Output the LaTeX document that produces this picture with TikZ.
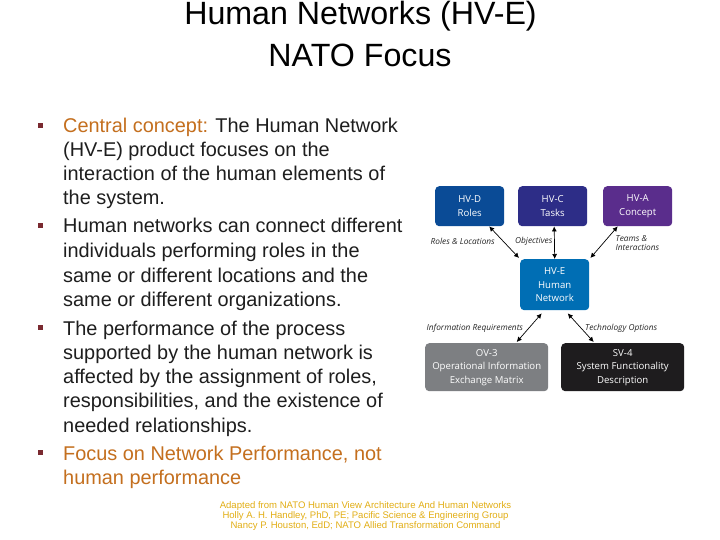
\documentclass[tikz,border=0pt]{standalone}
\usepackage{fontspec}
\setmainfont{Liberation Sans}
\newfontfamily\boxfont{Open Sans}
\usetikzlibrary{arrows.meta}
\definecolor{orangetxt}{HTML}{C46F1E}
\definecolor{bodytxt}{HTML}{1E1E1E}
\definecolor{foot}{HTML}{E2AE14}
\definecolor{bul}{HTML}{7A2A30}
\tikzset{
 x=1pt,y=-1pt,
 title/.style={font=\fontsize{32.2}{40}\selectfont,text=black,align=center,inner sep=0pt,anchor=center},
 bodytext/.style={anchor=base west,inner sep=0pt,text=bodytxt,font=\fontsize{19.9}{24}\selectfont},
 bulletbox/.style={fill=bul,minimum size=5pt,inner sep=0pt,anchor=center},
 foottext/.style={text=foot,font=\fontsize{9.55}{10}\selectfont,align=center,inner sep=0pt},
 hvbox/.style={rounded corners=4pt,text=white,align=center,inner sep=0pt,font=\boxfont\fontsize{9.6}{13.5}\selectfont,anchor=north west},
 small/.style={minimum width=69pt,minimum height=40pt},
 big/.style={minimum width=123pt,minimum height=48pt},
 lnk/.style={black,line width=0.7pt,{Latex[length=5pt,width=5pt]}-{Latex[length=5pt,width=5pt]}},
 lab/.style={font=\boxfont\itshape\fontsize{8.3}{9.5}\selectfont,text=black!85,inner sep=0pt,align=left}
}
\begin{document}
\begin{tikzpicture}
\useasboundingbox (0,0) rectangle (720,540);
\fill[white] (0,0) rectangle (720,540);
\node[title] (t1) at (360.5,16) {Human Networks (HV-E)};
\node[title] (t2) at (360,55) {NATO Focus};
% bullets
\node[bulletbox] (b1) at (40.5,125.5) {};
\node[bulletbox] (b2) at (40.5,225.5) {};
\node[bulletbox] (b3) at (40.5,327.5) {};
\node[bulletbox] (b4) at (40.5,452.5) {};
% text
\node[bodytext] (l1) at (63,133) {\textcolor{orangetxt}{Central concept:} The Human Network};
\node[bodytext] (l2) at (63,157) {(HV-E) product focuses on the};
\node[bodytext] (l3) at (63,181) {interaction of the human elements of};
\node[bodytext] (l4) at (63,205) {the system.};
\node[bodytext] (l5) at (63,233) {Human networks can connect different};
\node[bodytext] (l6) at (63,258) {individuals performing roles in the};
\node[bodytext] (l7) at (63,282) {same or different locations and the};
\node[bodytext] (l8) at (63,306) {same or different organizations.};
\node[bodytext] (l9) at (63,335) {The performance of the process};
\node[bodytext] (l10) at (63,359) {supported by the human network is};
\node[bodytext] (l11) at (63,383) {affected by the assignment of roles,};
\node[bodytext] (l12) at (63,407) {responsibilities, and the existence of};
\node[bodytext] (l13) at (63,432) {needed relationships.};
\node[bodytext,text=orangetxt] (l14) at (63,460) {Focus on Network Performance, not};
\node[bodytext,text=orangetxt] (l15) at (63,484) {human performance};
% footer
\node[foottext] (f) at (365.5,516) {Adapted from NATO Human View Architecture And Human Networks\\Holly A. H. Handley, PhD, PE; Pacific Science \& Engineering Group\\Nancy P. Houston, EdD; NATO Allied Transformation Command};
% boxes
\node[hvbox,small,fill={rgb,255:red,10;green,75;blue,150}] (hvd) at (435,186) {HV-D\\Roles};
\node[hvbox,small,fill={rgb,255:red,45;green,45;blue,135}] (hvc) at (518,186) {HV-C\\Tasks};
\node[hvbox,small,fill={rgb,255:red,90;green,45;blue,140}] (hva) at (603,186) {HV-A\\Concept};
\node[hvbox,small,minimum height=51pt,fill={rgb,255:red,0;green,110;blue,180}] (hve) at (520,259) {HV-E\\Human\\Network};
\node[hvbox,big,fill={rgb,255:red,125;green,127;blue,130}] (ov3) at (425,343) {OV-3\\Operational Information\\Exchange Matrix};
\node[hvbox,big,fill={rgb,255:red,30;green,28;blue,30}] (sv4) at (561,343) {SV-4\\System Functionality\\Description};
% connectors
\draw[lnk] ([xshift=19.5pt]hvd.south) -- ([xshift=-1pt,yshift=1pt]hve.north west);
\draw[lnk] ([xshift=1.5pt]hvc.south) -- (hve.north);
\draw[lnk] ([xshift=-20pt]hva.south) -- ([xshift=1pt,yshift=1pt]hve.north east);
\draw[lnk] ([xshift=-13pt,yshift=-3pt]hve.south) -- ([xshift=30pt,yshift=1pt]ov3.north);
\draw[lnk] ([xshift=13pt,yshift=-3pt]hve.south) -- ([xshift=-29pt,yshift=1pt]sv4.north);
% labels
\node[lab,anchor=west] (r) at (430.5,241) {Roles \& Locations};
\node[lab,anchor=west] (o) at (515,241) {Objectives};
\node[lab,anchor=west] (ti) at (615.5,243) {Teams \&\\Interactions};
\node[lab,anchor=west] (ir) at (426.5,328) {Information Requirements};
\node[lab,anchor=west] (to) at (585,328) {Technology Options};
\end{tikzpicture}
\end{document}
